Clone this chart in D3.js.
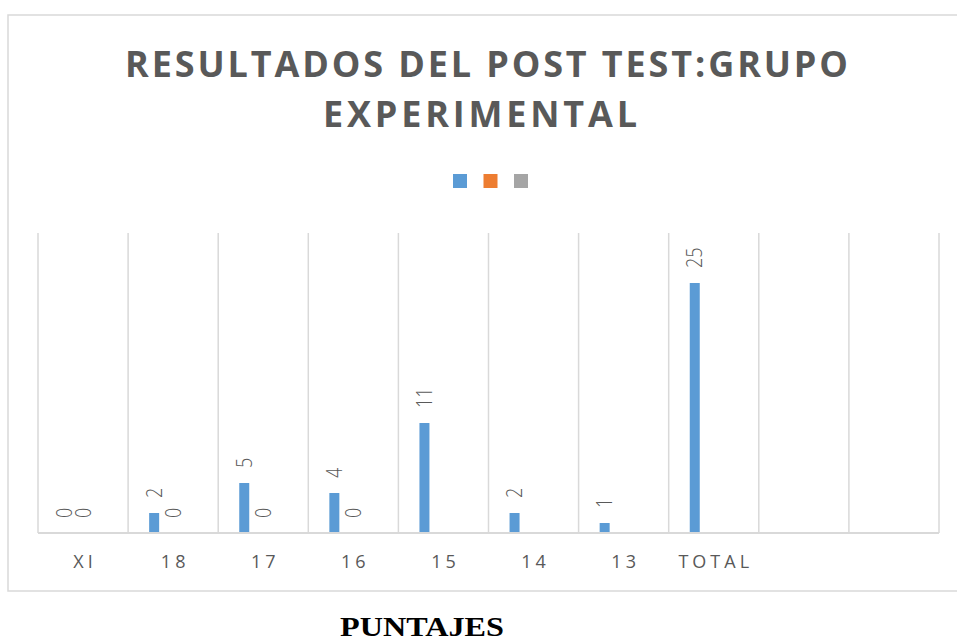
<!DOCTYPE html>
<html>
<head>
<meta charset="utf-8">
<script src="https://cdn.jsdelivr.net/npm/d3@7"></script>
<style>
  html, body { margin: 0; padding: 0; background: #fff; }
  svg { display: block; }
</style>
</head>
<body>
<svg id="chart" width="957" height="642"></svg>
<script>
// ---- data ----
const categories = ["XI", "18", "17", "16", "15", "14", "13", "TOTAL", "", " "];
const seriesNames = ["s1", "s2", "s3"];
const seriesColors = ["#5B9BD5", "#ED7D31", "#A5A5A5"];
const serie1 = [0, 2, 5, 4, 11, 2, 1, 25, null, null];
const serie2 = [0, 0, 0, 0, null, null, null, null, null, null];
const serie3 = [null, null, null, null, null, null, null, null, null, null];
const titleLines = ["RESULTADOS DEL POST TEST:GRUPO", "EXPERIMENTAL"];
const xTitle = "PUNTAJES";
const yMax = 30;

const svg = d3.select("#chart");
const allSeries = [serie1, serie2, serie3];

// frame
svg.append("rect")
  .attr("x", 8).attr("y", 15)
  .attr("width", 980).attr("height", 576)
  .attr("fill", "#fff").attr("stroke", "#D9D9D9").attr("stroke-width", 1.5);

// title
const titleSpecs = [{x: 125, y: 77, len: 723}, {x: 323, y: 127, len: 314}];
titleLines.forEach((t, i) => {
  svg.append("text")
    .attr("x", titleSpecs[i].x).attr("y", titleSpecs[i].y)
    .attr("textLength", titleSpecs[i].len)
    .attr("lengthAdjust", "spacing")
    .attr("font-family", "'Open Sans', 'Noto Sans', sans-serif")
    .attr("font-weight", 700)
    .attr("font-size", 36)
    .attr("fill", "#595959")
    .text(t);
});

// legend
const legendX = d3.scalePoint().domain(seriesNames).range([453, 514]);
svg.append("g").selectAll("rect")
  .data(seriesNames)
  .join("rect")
  .attr("x", d => legendX(d)).attr("y", 174)
  .attr("width", 14).attr("height", 14)
  .attr("fill", (d, i) => seriesColors[i]);

// scales
const x0 = d3.scaleBand().domain(categories).range([38, 939]).padding(0);
const x1 = d3.scaleBand().domain(seriesNames).range([-28.5, 28.5]);
const y = d3.scaleLinear().domain([0, yMax]).range([533, 233]);
const barW = 10;

// gridlines (category boundaries)
const bounds = categories.map(c => x0(c)).concat([x0.range()[1]]);
svg.append("g").selectAll("line")
  .data(bounds)
  .join("line")
  .attr("x1", d => d).attr("x2", d => d)
  .attr("y1", y(yMax)).attr("y2", y(0))
  .attr("stroke", "#D9D9D9").attr("stroke-width", 1.5);

// bars
const barData = [];
allSeries.forEach((arr, si) => {
  arr.forEach((v, ci) => {
    if (v !== null) barData.push({cat: categories[ci], s: seriesNames[si], si, v});
  });
});

svg.append("g").selectAll("rect")
  .data(barData.filter(d => d.v > 0))
  .join("rect")
  .attr("x", d => x0(d.cat) + x0.bandwidth() / 2 + x1(d.s) + x1.bandwidth() / 2 - barW / 2)
  .attr("y", d => y(d.v))
  .attr("width", barW)
  .attr("height", d => y(0) - y(d.v))
  .attr("fill", d => seriesColors[d.si]);

// axis line
svg.append("line")
  .attr("x1", x0.range()[0]).attr("x2", x0.range()[1])
  .attr("y1", y(0)).attr("y2", y(0))
  .attr("stroke", "#D9D9D9").attr("stroke-width", 2);

// data labels (rotated)
svg.append("g").selectAll("text")
  .data(barData)
  .join("text")
  .attr("transform", d => {
    const cx = x0(d.cat) + x0.bandwidth() / 2 + x1(d.s) + x1.bandwidth() / 2;
    return `translate(${cx + 7.5},${y(d.v) - 15}) scale(1.2,1) rotate(-90)`;
  })
  .attr("font-family", "'Open Sans', 'Noto Sans', sans-serif")
  .attr("font-weight", 300)
  .attr("font-size", 18)
  .attr("fill", "#595959")
  .text(d => d.v);

// category labels
svg.append("g").selectAll("text")
  .data(categories)
  .join("text")
  .attr("x", d => x0(d) + x0.bandwidth() / 2 + 2)
  .attr("y", 568)
  .attr("text-anchor", "middle")
  .attr("font-family", "'Open Sans', 'Noto Sans', sans-serif")
  .attr("font-size", 18)
  .attr("letter-spacing", 4)
  .attr("fill", "#595959")
  .text(d => d.trim());

// x title
svg.append("text")
  .attr("x", 340).attr("y", 636)
  .attr("textLength", 164)
  .attr("lengthAdjust", "spacingAndGlyphs")
  .attr("font-family", "'Liberation Serif', 'Times New Roman', serif")
  .attr("font-weight", 700)
  .attr("font-size", 27)
  .attr("fill", "#000")
  .text(xTitle);
</script>
</body>
</html>
